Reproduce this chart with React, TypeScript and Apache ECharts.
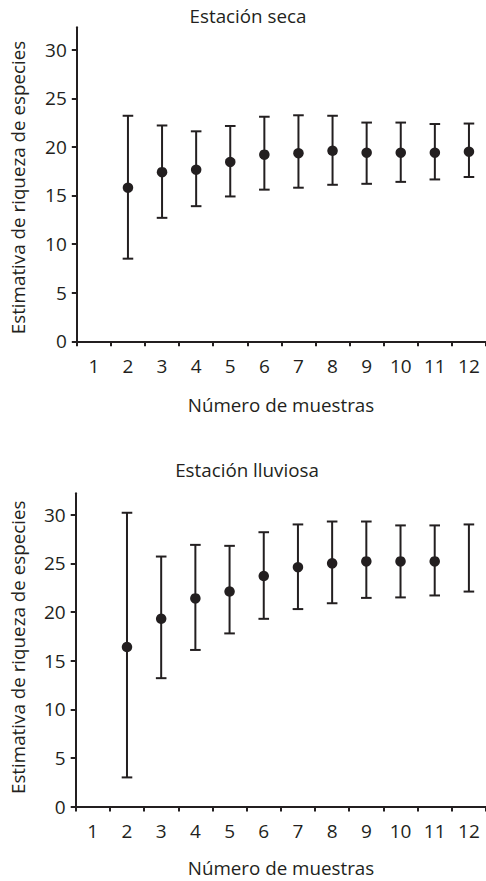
import React, { useEffect, useRef } from 'react';
import * as echarts from 'echarts';

const samples = ['1', '2', '3', '4', '5', '6', '7', '8', '9', '10', '11', '12'];
const yTicks = [0, 5, 10, 15, 20, 25, 30];

const secaMean = [null, 15.8, 17.4, 17.65, 18.45, 19.2, 19.35, 19.6, 19.4, 19.4, 19.4, 19.5];
const secaLow = [null, 8.5, 12.7, 13.9, 14.9, 15.6, 15.8, 16.1, 16.2, 16.4, 16.65, 16.9];
const secaHigh = [null, 23.2, 22.2, 21.6, 22.15, 23.1, 23.25, 23.2, 22.5, 22.5, 22.35, 22.4];

const lluviosaMean = [null, 16.4, 19.3, 21.4, 22.1, 23.7, 24.6, 25.0, 25.2, 25.2, 25.2, null];
const lluviosaLow = [null, 3.0, 13.2, 16.1, 17.8, 19.3, 20.3, 20.9, 21.45, 21.5, 21.7, 22.1];
const lluviosaHigh = [null, 30.2, 25.7, 26.9, 26.8, 28.2, 29.0, 29.3, 29.3, 28.9, 28.9, 29.0];

const titles = ['Estación seca', 'Estación lluviosa'];
const xName = 'Número de muestras';
const yName = 'Estimativa de riqueza de especies';

const INK = '#231f20';
const FONT = '"Open Sans", sans-serif';

function errData(low: (number | null)[], high: (number | null)[]) {
  const out: number[][] = [];
  low.forEach((l, i) => {
    const h = high[i];
    if (l != null && h != null) out.push([i, l, h]);
  });
  return out;
}
function meanData(mean: (number | null)[]) {
  const out: number[][] = [];
  mean.forEach((m, i) => {
    if (m != null) out.push([i, m]);
  });
  return out;
}

const renderErr = (params: any, api: any) => {
  const x = api.value(0);
  const lo = api.value(1);
  const hi = api.value(2);
  const pLo = api.coord([x, lo]);
  const pHi = api.coord([x, hi]);
  const w = 5.3;
  const style = { stroke: INK, lineWidth: 2, fill: 'none' };
  return {
    type: 'group',
    children: [
      { type: 'line', shape: { x1: pHi[0], y1: pHi[1], x2: pLo[0], y2: pLo[1] }, style },
      { type: 'line', shape: { x1: pHi[0] - w, y1: pHi[1], x2: pHi[0] + w, y2: pHi[1] }, style },
      { type: 'line', shape: { x1: pLo[0] - w, y1: pLo[1], x2: pLo[0] + w, y2: pLo[1] }, style },
    ],
  };
};

export default function App() {
  const ref = useRef<HTMLDivElement>(null);
  useEffect(() => {
    if (!ref.current) return;
    const chart = echarts.init(ref.current, null, { renderer: 'svg' });
    const labelStyle = { fontSize: 19, fontFamily: FONT, color: INK };
    const mkX = (gi: number) => ({
      type: 'category',
      gridIndex: gi,
      data: samples,
      boundaryGap: true,
      axisLine: { onZero: true, lineStyle: { color: INK, width: 2 } },
      axisTick: { show: true, interval: 0, length: 5, lineStyle: { color: INK, width: 2 } },
      axisLabel: { interval: 0, margin: 15, ...labelStyle },
      splitLine: { show: false },
    });
    const mkY = (gi: number, max: number) => ({
      type: 'value',
      gridIndex: gi,
      min: 0,
      max,
      axisLine: { show: true, lineStyle: { color: INK, width: 2 } },
      axisTick: { show: true, length: 5, customValues: yTicks, lineStyle: { color: INK, width: 2 } },
      axisLabel: { margin: 10, customValues: yTicks, ...labelStyle },
      splitLine: { show: false },
    });
    const txt = (text: string, x: number, y: number, rot = 0) => ({
      type: 'text',
      x,
      y,
      rotation: rot,
      style: { text, font: `18.8px ${FONT}`, fill: INK, align: 'center', verticalAlign: 'middle' },
    });
    chart.setOption({
      animation: false,
      grid: [
        { left: 76.8, top: 27.3, width: 412, height: 314 },
        { left: 75.7, top: 493.3, width: 412, height: 313.3 },
      ],
      xAxis: [mkX(0), mkX(1)],
      yAxis: [mkY(0, 32.3), mkY(1, 32.2)],
      graphic: [
        txt(titles[0], 248, 16),
        txt(titles[1], 247, 470),
        txt(xName, 281, 405),
        txt(xName, 281, 868),
        txt(yName, 18, 187.5, Math.PI / 2),
        txt(yName, 18, 647.3, Math.PI / 2),
      ],
      series: [
        { type: 'custom', xAxisIndex: 0, yAxisIndex: 0, renderItem: renderErr, data: errData(secaLow, secaHigh), encode: { x: 0, y: [1, 2] }, clip: false },
        { type: 'scatter', xAxisIndex: 0, yAxisIndex: 0, data: meanData(secaMean), symbolSize: 10.5, itemStyle: { color: INK, opacity: 1 } },
        { type: 'custom', xAxisIndex: 1, yAxisIndex: 1, renderItem: renderErr, data: errData(lluviosaLow, lluviosaHigh), encode: { x: 0, y: [1, 2] }, clip: false },
        { type: 'scatter', xAxisIndex: 1, yAxisIndex: 1, data: meanData(lluviosaMean), symbolSize: 10.5, itemStyle: { color: INK, opacity: 1 } },
      ],
    });
    return () => chart.dispose();
  }, []);
  return <div ref={ref} style={{ position: 'absolute', left: 0, top: 0, width: 486, height: 881 }} />;
}
